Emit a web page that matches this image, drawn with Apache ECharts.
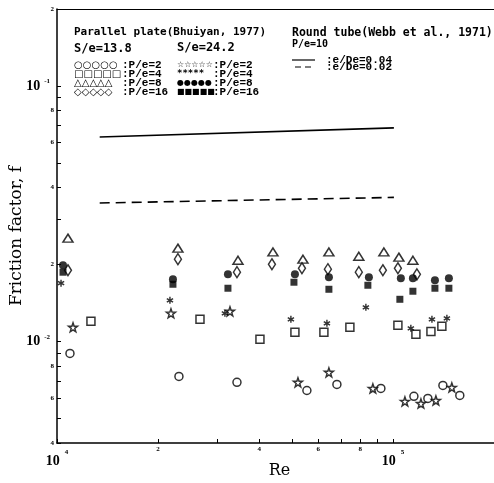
<!DOCTYPE html>
<html><head><meta charset="utf-8">
<script src="https://cdn.jsdelivr.net/npm/echarts@6/dist/echarts.min.js"></script>
<style>html,body{margin:0;padding:0;background:#fff}#c{width:494px;height:483px}</style>
</head><body><div id="c"></div>
<script>
// ---------- data (Re, friction factor f) ----------
// Parallel plate S/e = 13.8
const reP2a  = [10930, 23070, 34340, 55460, 68130, 92100, 115500, 127100, 140900, 158200];
const fP2a   = [0.00897, 0.00729, 0.00691, 0.00642, 0.00678, 0.00654, 0.00609, 0.00598, 0.00672, 0.00614];
const reP4a  = [12620, 26650, 40200, 51090, 62320, 74470, 103500, 117100, 129800, 139900];
const fP4a   = [0.01198, 0.01220, 0.01018, 0.01085, 0.01085, 0.01135, 0.01155, 0.01065, 0.01094, 0.01145];
const reP8a  = [10780, 22910, 34580, 43950, 53980, 64490, 79170, 94010, 104200, 114700];
const fP8a   = [0.02535, 0.02316, 0.02078, 0.02239, 0.02097, 0.02239, 0.02154, 0.02239, 0.02136, 0.02078];
const reP16a = [10780, 22910, 34340, 43640, 53610, 64050, 79170, 93370, 103500, 117900];
const fP16a  = [0.01898, 0.02097, 0.01865, 0.02004, 0.01933, 0.01916, 0.01865, 0.01898, 0.01933, 0.01830];
// Parallel plate S/e = 24.2
const reP2b  = [11160, 21840, 32730, 52160, 64490, 87180, 108600, 121200, 134300, 149800];
const fP2b   = [0.01135, 0.01288, 0.01311, 0.00691, 0.00756, 0.00654, 0.00582, 0.00571, 0.00587, 0.00660];
const reP4b  = [10280, 21690, 31620, 49700, 63620, 83100, 113100, 130700, 144800];
const fP4b   = [0.01689, 0.01448, 0.01288, 0.01220, 0.01177, 0.01359, 0.01125, 0.01220, 0.01231];
const reP8b  = [10420, 22140, 32280, 51090, 64490, 84830, 105600, 114700, 133400, 146800];
const fP8b   = [0.01986, 0.01750, 0.01830, 0.01830, 0.01782, 0.01782, 0.01766, 0.01766, 0.01735, 0.01766];
const reP16b = [10420, 22140, 32280, 50750, 64490, 84240, 104900, 114700, 133400, 146800];
const fP16b  = [0.01865, 0.01673, 0.01614, 0.01704, 0.01599, 0.01658, 0.01461, 0.01571, 0.01614, 0.01614];
// Round tube (Webb et al., 1971), P/e = 10
const reTube   = [13400, 100700];
const fTube004 = [0.0631, 0.0685];
const fTube002 = [0.0348, 0.0366];

// ---------- axis ticks / labels ----------
const xTickValues  = [10000, 20000, 30000, 40000, 50000, 60000, 70000, 80000, 90000, 100000];
const xLabelValues = [10000, 20000, 40000, 60000, 80000, 100000];
const xLabelBase   = ['10', '2', '4', '6', '8', '10'];
const xLabelExp    = ['4', '', '', '', '', '5'];
const yTickValues  = [0.004, 0.005, 0.006, 0.007, 0.008, 0.009, 0.01, 0.02, 0.03, 0.04, 0.05, 0.06, 0.07, 0.08, 0.09, 0.1, 0.2];
const yLabelValues = [0.2, 0.1, 0.08, 0.06, 0.04, 0.02, 0.01, 0.008, 0.006, 0.004];
const yLabelBase   = ['2', '10', '8', '6', '4', '2', '10', '8', '6', '4'];
const yLabelExp    = ['', '-1', '', '', '', '', '-2', '', '', ''];

function pair(xs, ys) { return xs.map((x, i) => [x, ys[i]]); }
function findIdx(vals, v) {
  for (let i = 0; i < vals.length; i++) if (Math.abs(vals[i] - v) / vals[i] < 1e-6) return i;
  return -1;
}

const STAR = 'path://M0,-10L2.35,-3.24L9.51,-3.09L3.8,1.24L5.88,8.09L0,4.2L-5.88,8.09L-3.8,1.24L-9.51,-3.09L-2.35,-3.24Z';
const ASTER = 'path://M-1,-5L1,-5L1,5L-1,5Z M3.83,-3.37L4.83,-1.63L-3.83,3.37L-4.83,1.63Z M4.83,1.63L3.83,3.37L-4.83,-1.63L-3.83,-3.37Z';
const openStyle = {color: '#fff', borderColor: '#000', borderWidth: 1.5};
const fillStyle = {color: '#000'};

function sc(name, xs, ys, symbol, size, style) {
  return {name, type: 'scatter', data: pair(xs, ys), symbol, symbolSize: size,
          itemStyle: style, silent: true, animation: false};
}

const serifBold = '"Liberation Serif", serif';
const chart = echarts.init(document.getElementById('c'), null, {renderer: 'canvas'});
chart.setOption({
  animation: false,
  backgroundColor: '#fff',
  grid: {left: 57, top: 9, right: 0, bottom: 40, containLabel: false, outerBoundsMode: 'none'},
  xAxis: [{
    type: 'log', min: 10000, max: 200000,
    name: 'Re', nameLocation: 'middle', nameGap: 20, nameMoveOverlap: false,
    nameTextStyle: {fontFamily: '"DejaVu Serif", serif', fontSize: 16, color: '#000', padding: [0, 0, 0, 8]},
    axisLine: {show: true, lineStyle: {color: '#000', width: 1.5}},
    axisTick: {show: true, inside: true, length: 4, customValues: xTickValues, lineStyle: {color: '#000', width: 1}},
    splitLine: {show: false}, minorTick: {show: false},
    axisLabel: {
      show: true, margin: 3, customValues: xLabelValues, color: '#000',
      formatter: function (v) {
        const i = findIdx(xLabelValues, v);
        if (i < 0) return '';
        return xLabelExp[i] ? '{b|' + xLabelBase[i] + '}{s|' + xLabelExp[i] + '}' : '{m|' + xLabelBase[i] + '}';
      },
      rich: {
        b: {fontFamily: serifBold, fontWeight: 'bold', fontSize: 14, padding: [8, 0, 0, 0], color: '#000'},
        s: {fontFamily: serifBold, fontWeight: 'bold', fontSize: 7, verticalAlign: 'top', padding: [3, 0, 0, 5], color: '#000'},
        m: {fontFamily: serifBold, fontWeight: 'bold', fontSize: 7, color: '#000'}
      }
    }
  }, {
    type: 'log', min: 10000, max: 200000, position: 'top',
    axisLine: {show: true, lineStyle: {color: '#000', width: 1}},
    axisTick: {show: false}, axisLabel: {show: false}, splitLine: {show: false}
  }],
  yAxis: [{
    type: 'log', min: 0.004, max: 0.2,
    name: 'Friction factor, f', nameLocation: 'middle', nameGap: 32, nameMoveOverlap: false,
    nameTextStyle: {fontFamily: '"DejaVu Serif", serif', fontSize: 17, color: '#000', padding: [0, 20, 0, 0]},
    axisLine: {show: true, lineStyle: {color: '#000', width: 1.5}},
    axisTick: {show: true, inside: true, length: 4, customValues: yTickValues, lineStyle: {color: '#000', width: 1}},
    splitLine: {show: false}, minorTick: {show: false},
    axisLabel: {
      show: true, margin: 3, customValues: yLabelValues, color: '#000',
      formatter: function (v) {
        const i = findIdx(yLabelValues, v);
        if (i < 0) return '';
        return yLabelExp[i] ? '{b|' + yLabelBase[i] + '}{s|' + yLabelExp[i] + '}' : '{m|' + yLabelBase[i] + '}';
      },
      rich: {
        b: {fontFamily: serifBold, fontWeight: 'bold', fontSize: 14, lineHeight: 16, color: '#000'},
        s: {fontFamily: serifBold, fontWeight: 'bold', fontSize: 7, verticalAlign: 'top', padding: [0, 4, 0, 4], color: '#000'},
        m: {fontFamily: serifBold, fontWeight: 'bold', fontSize: 7, color: '#000'}
      }
    }
  }],
  series: [
    {name: 'e/De=0.04', type: 'line', data: pair(reTube, fTube004), symbol: 'none', silent: true,
     lineStyle: {color: '#000', width: 1.6, type: 'solid'}},
    {name: 'e/De=0.02', type: 'line', data: pair(reTube, fTube002), symbol: 'none', silent: true,
     lineStyle: {color: '#000', width: 1.6, type: [10, 6]}},
    sc('13.8 P/e=2', reP2a, fP2a, 'circle', 8, openStyle),
    sc('13.8 P/e=4', reP4a, fP4a, 'rect', 8, openStyle),
    sc('13.8 P/e=8', reP8a, fP8a, 'triangle', [10, 8], openStyle),
    sc('13.8 P/e=16', reP16a, fP16a, 'diamond', [7, 11], openStyle),
    sc('24.2 P/e=2', reP2b, fP2b, STAR, 9, openStyle),
    sc('24.2 P/e=4', reP4b, fP4b, ASTER, 7, fillStyle),
    sc('24.2 P/e=8', reP8b, fP8b, 'circle', 8, fillStyle),
    sc('24.2 P/e=16', reP16b, fP16b, 'rect', 7, fillStyle)
  ],
  graphic: [
    {type: 'text', x: 74, y: 32, style: {text: 'Parallel plate(Bhuiyan, 1977)', font: 'bold 11px "DejaVu Sans Mono"', fill: '#000', verticalAlign: 'middle'}},
    {type: 'text', x: 74, y: 49, style: {text: 'S/e=13.8', font: 'bold 12px "DejaVu Sans Mono"', fill: '#000', verticalAlign: 'middle'}},
    {type: 'text', x: 177, y: 48, style: {text: 'S/e=24.2', font: 'bold 12px "DejaVu Sans Mono"', fill: '#000', verticalAlign: 'middle'}},
    {type: 'text', x: 74, y: 65, style: {text: '○○○○○', font: '10px "DejaVu Sans"', fill: '#000', verticalAlign: 'middle'}},
    {type: 'text', x: 74, y: 74, style: {text: '□□□□□', font: '10px "DejaVu Sans"', fill: '#000', verticalAlign: 'middle'}},
    {type: 'text', x: 74, y: 83, style: {text: '△△△△△', font: '10px "DejaVu Sans"', fill: '#000', verticalAlign: 'middle'}},
    {type: 'text', x: 74, y: 92, style: {text: '◇◇◇◇◇', font: '10px "DejaVu Sans"', fill: '#000', verticalAlign: 'middle'}},
    {type: 'text', x: 122, y: 65, style: {text: ':P/e=2', font: 'bold 11px "Liberation Mono"', fill: '#000', verticalAlign: 'middle'}},
    {type: 'text', x: 122, y: 74, style: {text: ':P/e=4', font: 'bold 11px "Liberation Mono"', fill: '#000', verticalAlign: 'middle'}},
    {type: 'text', x: 122, y: 83, style: {text: ':P/e=8', font: 'bold 11px "Liberation Mono"', fill: '#000', verticalAlign: 'middle'}},
    {type: 'text', x: 122, y: 92, style: {text: ':P/e=16', font: 'bold 11px "Liberation Mono"', fill: '#000', verticalAlign: 'middle'}},
    {type: 'text', x: 177, y: 65, style: {text: '☆☆☆☆☆', font: '8px "DejaVu Sans"', fill: '#000', verticalAlign: 'middle'}},
    {type: 'text', x: 177, y: 74, style: {text: '*****', font: 'bold 9px "DejaVu Sans Mono"', fill: '#000', verticalAlign: 'middle'}},
    {type: 'text', x: 177, y: 83, style: {text: '●●●●●', font: '8px "DejaVu Sans"', fill: '#000', verticalAlign: 'middle'}},
    {type: 'text', x: 177, y: 92, style: {text: '■■■■■', font: '8px "DejaVu Sans"', fill: '#000', verticalAlign: 'middle'}},
    {type: 'text', x: 213, y: 65, style: {text: ':P/e=2', font: 'bold 11px "Liberation Mono"', fill: '#000', verticalAlign: 'middle'}},
    {type: 'text', x: 213, y: 74, style: {text: ':P/e=4', font: 'bold 11px "Liberation Mono"', fill: '#000', verticalAlign: 'middle'}},
    {type: 'text', x: 213, y: 83, style: {text: ':P/e=8', font: 'bold 11px "Liberation Mono"', fill: '#000', verticalAlign: 'middle'}},
    {type: 'text', x: 213, y: 92, style: {text: ':P/e=16', font: 'bold 11px "Liberation Mono"', fill: '#000', verticalAlign: 'middle'}},
    {type: 'text', x: 292, y: 33, style: {text: 'Round tube(Webb et al., 1971)', font: 'bold 11.5px "DejaVu Sans Mono"', fill: '#000', verticalAlign: 'middle'}},
    {type: 'text', x: 292, y: 44, style: {text: 'P/e=10', font: 'bold 10px "DejaVu Sans Mono"', fill: '#000', verticalAlign: 'middle'}},
    {type: 'line', shape: {x1: 292, y1: 60, x2: 315, y2: 60}, style: {stroke: '#000', lineWidth: 1.2}},
    {type: 'line', shape: {x1: 295, y1: 67, x2: 313, y2: 67}, style: {stroke: '#000', lineWidth: 1.2, lineDash: [6, 4]}},
    {type: 'text', x: 326, y: 60, style: {text: ':e/De=0.04', font: 'bold 11px "Liberation Mono"', fill: '#000', verticalAlign: 'middle'}},
    {type: 'text', x: 326, y: 67, style: {text: ':e/De=0.02', font: 'bold 11px "Liberation Mono"', fill: '#000', verticalAlign: 'middle'}}
  ]
});
</script>
</body></html>
